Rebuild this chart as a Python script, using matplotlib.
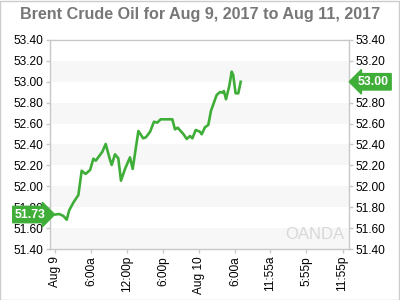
import matplotlib
matplotlib.use("Agg")
import matplotlib.pyplot as plt
from matplotlib.patches import Rectangle
import matplotlib.transforms as mtransforms

plt.rcParams['font.family'] = ['Liberation Sans', 'DejaVu Sans']

# hours since Aug 9 00:00 and Brent price
hours = [0.1, 0.7, 1.4, 1.95, 2.35, 3.05, 3.9, 4.45, 5.1, 5.85, 6.4, 6.8, 7.9, 8.45,
         9.15, 9.45, 10.0, 10.55, 11.0, 11.65, 12.5, 12.95, 13.9, 14.7, 15.15, 15.85,
         16.5, 17.05, 17.6, 19.55, 20.0, 20.45, 21.4, 21.95, 22.5, 22.9, 23.45, 24.15,
         24.45, 25.0, 25.55, 26.0, 26.95, 27.5, 27.9, 28.15, 28.5, 29.05, 29.45, 29.7,
         30.1, 30.55, 30.95]
prices = [51.73, 51.735, 51.716, 51.68, 51.767, 51.843, 51.917, 52.149, 52.118, 52.156,
          52.264, 52.245, 52.331, 52.405, 52.258, 52.204, 52.306, 52.268, 52.054, 52.163,
          52.277, 52.166, 52.529, 52.459, 52.469, 52.522, 52.618, 52.609, 52.641, 52.641,
          52.545, 52.561, 52.50, 52.453, 52.481, 52.459, 52.539, 52.522, 52.498, 52.565,
          52.587, 52.723, 52.874, 52.902, 52.896, 52.912, 52.833, 52.96, 53.097, 53.065,
          52.89, 52.89, 53.00]

xtick_pos = [0, 6, 12, 18, 24, 30, 35.917, 41.917, 47.917]
xtick_labels = ['Aug 9', '6:00a', '12:00p', '6:00p', 'Aug 10', '6:00a', '11:55a', '5:55p', '11:55p']
ytick_vals = [51.40, 51.60, 51.80, 52.00, 52.20, 52.40, 52.60, 52.80, 53.00, 53.20, 53.40]

green = '#3fae38'
grid_gray = '#c8c8c8'

fig = plt.figure(figsize=(4, 3), dpi=100)
fig.patches.append(Rectangle((0.001, 0.001), 0.997, 0.996, transform=fig.transFigure,
                             fill=False, edgecolor='#cccccc', linewidth=1))
ax = fig.add_axes([0.125, 0.17, 0.7475, 0.6967])

# alternating bands
for i in range(0, len(ytick_vals) - 1, 2):
    ax.axhspan(ytick_vals[i], ytick_vals[i + 1], color='#f7f7f7', zorder=0, lw=0)

ax.plot(hours, prices, color=green, lw=1.9, zorder=3)

ax.set_xlim(-0.83, 49.0)
ax.set_ylim(51.40, 53.40)
ax.set_yticks(ytick_vals)
ax.set_yticklabels([f'{v:.2f}' for v in ytick_vals])
ax.set_xticks(xtick_pos)
ax.set_xticklabels(xtick_labels, rotation=90)
ax.tick_params(axis='both', labelsize=8.6, colors=grid_gray, labelcolor='black',
               length=3, width=1, pad=2)
ax.tick_params(axis='y', left=True, right=True, labelleft=True, labelright=True)
for s in ax.spines.values():
    s.set_color(grid_gray)
    s.set_linewidth(1)

fig.suptitle('Brent Crude Oil for Aug 9, 2017 to Aug 11, 2017', x=0.5, y=0.975,
             fontsize=11.6, fontweight='bold', color='#777777')

# price flags
tr = mtransforms.blended_transform_factory(ax.transAxes, ax.transData)
ax.text(-0.014, prices[0], f'{prices[0]:.2f}', transform=tr, ha='right', va='center',
        fontsize=8.8, fontweight='bold', color='white', zorder=5, clip_on=False,
        bbox=dict(boxstyle='rarrow,pad=0.18', fc=green, ec=green))
ax.text(1.03, prices[-1], f'{prices[-1]:.2f}', transform=tr, ha='left', va='center',
        fontsize=8.8, fontweight='bold', color='white', zorder=5, clip_on=False,
        bbox=dict(boxstyle='larrow,pad=0.18', fc=green, ec=green))

# watermark
ax.text(0.985, 0.035, 'OANDA', transform=ax.transAxes, ha='right', va='bottom',
        fontsize=12, color='#d8d8d8', zorder=1)

fig.savefig('out.png', dpi=100)
